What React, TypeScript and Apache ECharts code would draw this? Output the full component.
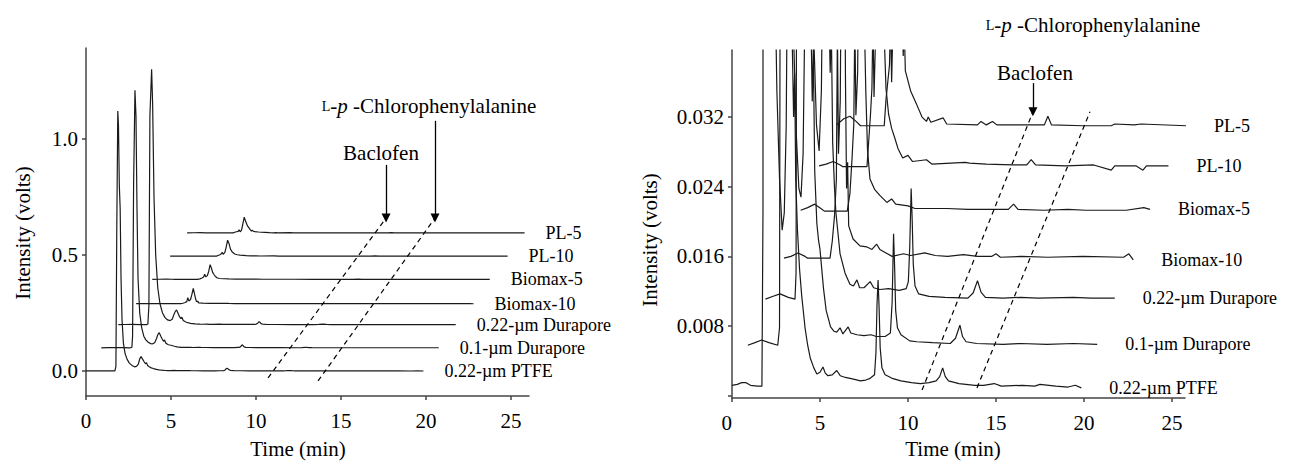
import React, { useEffect, useRef } from "react";
import * as echarts from "echarts";

// ---- data ----
const traceNames = [
  "0.22-\u00b5m PTFE",
  "0.1-\u00b5m Durapore",
  "0.22-\u00b5m Durapore",
  "Biomax-10",
  "Biomax-5",
  "PL-10",
  "PL-5",
];
// start time of each trace (min)
const xOffsets = [0, 0.9, 1.9, 2.95, 3.9, 4.95, 5.95];
// baseline offsets (volts)
const leftBaselines = [0, 0.1, 0.2, 0.29, 0.395, 0.495, 0.595];
const rightBaselines = [0.001, 0.0058, 0.0111, 0.0158, 0.0212, 0.0263, 0.031];

// local [time (min), intensity above baseline (volts)]
const ptfe = [
  [0, 0.0002], [0.3, 0.0003], [0.55, 0.0005], [0.8, 0.0005], [1.05, 0.0002], [1.45, 0.0001], [1.7, 0.0001],
  [1.76, 0.02], [1.81, 0.6], [1.87, 1.12], [1.91, 1.06], [1.96, 0.8], [2.01, 0.7], [2.06, 0.4], [2.12, 0.22],
  [2.2, 0.12], [2.3, 0.075], [2.42, 0.05], [2.55, 0.034], [2.7, 0.024], [2.85, 0.018], [2.97, 0.02],
  [3.08, 0.03], [3.16, 0.052], [3.24, 0.062], [3.32, 0.052], [3.42, 0.04], [3.5, 0.031], [3.56, 0.036],
  [3.62, 0.024], [3.72, 0.018], [3.84, 0.0135], [3.96, 0.0105], [4.15, 0.0068],
  [4.3, 0.0048], [4.45, 0.0033], [4.65, 0.0022], [4.82, 0.0015], [5.0, 0.0017], [5.17, 0.0023], [5.3, 0.0016],
  [5.45, 0.0013], [5.7, 0.0014], [5.95, 0.0019], [6.15, 0.0013], [6.45, 0.0011], [6.9, 0.0009], [7.3, 0.0007],
  [7.6, 0.0008], [7.85, 0.001], [8.1, 0.0014], [8.18, 0.004], [8.24, 0.0095], [8.3, 0.0123], [8.36, 0.009],
  [8.42, 0.0045], [8.52, 0.0022], [8.7, 0.0014], [9.1, 0.001], [9.6, 0.0007], [10.2, 0.0005], [10.7, 0.0004],
  [11.2, 0.0005], [11.6, 0.0007], [11.8, 0.0012], [11.97, 0.0022], [12.12, 0.0012], [12.3, 0.0007], [12.9, 0.0004],
  [13.8, 0.0002], [14.3, 0.0002], [14.9, 0.0004], [15.3, 0.0001], [16.5, 0.0002], [17.2, 0.0001], [17.5, 0.0003],
  [18.4, 0.0001], [19.1, 0], [19.5, 0.0002], [19.85, -0.0001],
];
const durapore01 = [
  [0, 0], [0.4, 0.0003], [0.79, 0.0006], [1.2, 0.0003], [1.7, 0], [1.8, 0.002], [1.84, 0.05], [1.9, 0.7],
  [1.98, 1.11], [2.04, 1.0], [2.1, 0.6], [2.16, 0.3], [2.26, 0.15], [2.38, 0.085], [2.5, 0.05], [2.62, 0.034],
  [2.76, 0.024], [2.9, 0.018], [3.02, 0.017], [3.14, 0.022], [3.25, 0.04], [3.33, 0.058], [3.41, 0.065],
  [3.5, 0.05], [3.58, 0.038], [3.66, 0.028], [3.72, 0.034], [3.8, 0.02], [3.92, 0.014], [4.02, 0.012],
  [4.1, 0.011], [4.3, 0.0065], [4.45, 0.004], [4.7, 0.0021], [4.9, 0.0016], [5.05, 0.0015], [5.24, 0.002],
  [5.4, 0.0013], [5.7, 0.0021], [5.85, 0.0014], [6.2, 0.0012], [6.6, 0.0011], [7.0, 0.0012], [7.3, 0.001],
  [7.8, 0.001], [8.1, 0.0014], [8.2, 0.005], [8.28, 0.0128], [8.34, 0.009], [8.4, 0.004], [8.5, 0.002],
  [8.7, 0.0012], [9.2, 0.0005], [9.6, 0.0004], [10.5, 0.0003], [11.5, 0.0002], [11.8, 0.0008], [12.05, 0.0023],
  [12.2, 0.001], [12.4, 0.0004], [13.0, 0.0002], [14.5, 0.0001], [15.5, 0.0002], [17, 0.0001], [18.5, 0.0002],
  [19.85, 0.0001],
];
const durapore022 = [
  [0, 0], [0.4, 0.0003], [0.83, 0.0006], [1.3, 0.0002], [1.68, 0], [1.74, 0.003], [1.8, 0.08], [1.86, 0.9],
  [1.96, 1.1], [2.02, 0.95], [2.1, 0.55], [2.2, 0.3], [2.32, 0.16], [2.45, 0.09], [2.6, 0.05], [2.75, 0.03],
  [2.9, 0.02], [3.05, 0.017], [3.18, 0.024], [3.28, 0.045], [3.36, 0.058], [3.43, 0.063], [3.52, 0.048],
  [3.6, 0.034], [3.68, 0.026], [3.74, 0.032], [3.82, 0.018], [3.92, 0.013], [4.0, 0.01],
  [4.24, 0.0052], [4.52, 0.003], [4.8, 0.0017], [5.0, 0.0015], [5.2, 0.0022], [5.35, 0.0013], [5.6, 0.0013],
  [5.95, 0.002], [6.15, 0.0013], [6.5, 0.0011], [7.0, 0.0012], [7.6, 0.001], [8.0, 0.0012], [8.12, 0.002],
  [8.2, 0.006], [8.28, 0.0127], [8.34, 0.009], [8.4, 0.004], [8.5, 0.0015], [8.7, 0.0006], [9.3, 0.0003],
  [10.2, 0.0002], [11.5, 0.0001], [11.8, 0.0007], [12.05, 0.0021], [12.25, 0.0008], [12.5, 0.0002],
  [13.5, 0.0001], [14.5, 0.0002], [15.5, 0.0001], [17.5, 0.0002], [18.5, 0.0001], [19.85, 0.0001],
];
const biomax10 = [
  [0, 0], [0.4, 0.0002], [0.8, 0.0006], [1.2, 0.0002], [1.35, 0], [2.62, 0], [2.75, 0.002], [2.88, 0.005],
  [2.98, 0.009], [3.04, 0.026], [3.1, 0.012], [3.2, 0.018], [3.28, 0.04], [3.36, 0.066], [3.44, 0.04],
  [3.5, 0.02], [3.56, 0.008], [3.62, 0.011], [3.68, 0.0037], [3.93, 0.0022], [4.32, 0.0014], [4.7, 0.0013],
  [5.0, 0.001], [5.27, 0.0016], [5.45, 0.001], [5.8, 0.0006], [6.15, 0.0002], [6.8, 0.0005], [7.2, 0.0003],
  [8.0, 0.0006], [8.6, 0.0003], [9.3, 0.0002], [10.2, 0.0004], [11.0, 0.0002], [11.8, 0.0002], [12.05, 0.0005],
  [12.3, 0.0001], [13.5, 0.0002], [15, 0.0001], [17, 0.0002], [19.3, 0.0001], [19.6, 0.0005], [19.85, -0.0002],
];
const biomax5 = [
  [0, 0.0001], [0.4, 0.0004], [0.8, 0.0008], [1.15, 0.0003], [1.35, 0], [2.65, 0], [2.8, 0.002], [2.92, 0.006],
  [3.02, 0.01], [3.08, 0.022], [3.14, 0.011], [3.24, 0.016], [3.32, 0.035], [3.4, 0.063], [3.47, 0.05],
  [3.55, 0.03], [3.62, 0.022], [3.7, 0.014], [3.8, 0.007], [3.94, 0.0037], [4.2, 0.0025], [4.5, 0.0018],
  [4.9, 0.001], [5.17, 0.0014], [5.4, 0.0008], [6.1, 0.0006], [6.5, 0.0003], [8.3, 0.0003], [9.5, 0.0002],
  [11.8, 0.0002], [12.1, 0.0008], [12.35, 0.0002], [13.8, 0.0001], [15.2, 0.0002], [16.2, 0.0001],
  [18.5, 0.0001], [19.5, 0.0004], [19.85, 0.0002],
];
const pl10 = [
  [0, 0.0001], [0.4, 0.0003], [0.8, 0.0006], [1.2, 0.0002], [1.35, 0], [2.72, 0], [2.82, 0.003], [2.92, 0.006],
  [3.0, 0.009], [3.06, 0.017], [3.12, 0.008], [3.22, 0.016], [3.3, 0.04], [3.38, 0.069], [3.46, 0.055],
  [3.55, 0.03], [3.65, 0.018], [3.8, 0.009], [3.95, 0.006], [4.12, 0.0044], [4.3, 0.0033], [4.48, 0.0021],
  [4.75, 0.001], [5.05, 0.0013], [5.3, 0.0006], [6.1, 0.0008], [6.4, 0.0003], [8.3, 0.0005], [8.55, 0.0004],
  [9.5, 0.0003], [11.0, 0.0002], [11.8, 0.0002], [12.05, 0.0008], [12.3, 0.0002], [14, 0.0001], [15.6, 0.0002],
  [16.6, -0.0004], [16.8, 0.0001], [18, 0.0001], [18.4, -0.0004], [18.6, 0.0001], [19.85, 0.0001],
];
const pl5 = [
  [0, 0.0001], [0.4, 0.0008], [0.75, 0.0011], [1.1, 0.0005], [1.35, 0], [2.7, 0], [2.8, 0.003], [2.9, 0.005],
  [3.0, 0.007], [3.06, 0.013], [3.12, 0.005], [3.2, 0.012], [3.28, 0.04], [3.36, 0.068], [3.44, 0.05],
  [3.55, 0.03], [3.7, 0.015], [3.78, 0.008], [3.83, 0.012], [3.9, 0.0063], [4.2, 0.004], [4.55, 0.0024],
  [4.85, 0.001], [5.1, 0.0005], [5.2, 0.001], [5.35, 0.0004], [6.05, 0.0009], [6.25, 0.0002], [8.0, 0.0001],
  [8.2, 0.0005], [8.5, 0.0001], [8.85, 0.0005], [9.1, 0.0001], [11.8, 0.0001], [12.0, 0.0011], [12.2, 0.0001],
  [14, 0], [15.6, 0], [15.8, 0.0002], [16.9, 0.0001], [17.3, 0.0002], [19.85, 0],
];
const traces = [ptfe, durapore01, durapore022, biomax10, biomax5, pl10, pl5];

const xTicks = [0, 5, 10, 15, 20, 25];
const leftYTicks = [0, 0.5, 1.0];
const rightYTicks = [0, 0.008, 0.016, 0.024, 0.032];
const rightYLabels = [0.008, 0.016, 0.024, 0.032];

// dashed guide lines and arrows [time, volts]
const baclofenLeft = [[10.71, -0.03], [17.65, 0.659]];
const chloroLeft = [[13.65, -0.043], [20.53, 0.659]];
const baclofenArrowLeft = [[17.65, 0.888], [17.65, 0.659]];
const chloroArrowLeft = [[20.53, 1.078], [20.53, 0.659]];
const baclofenRight = [[10.8, 0.00065], [17.1, 0.0326]];
const chloroRight = [[13.92, 0.0009], [20.34, 0.0326]];
const baclofenArrowRight = [[17.1, 0.0359], [17.1, 0.0326]];
const chloroArrowRight = [[20.34, 0.0432], [20.34, 0.0326]];

// ---- chart ----
const serif = "'Liberation Serif', 'Times New Roman', serif";
const axisColor = "#444";

function traceSeries(panel: number) {
  const base = panel === 0 ? leftBaselines : rightBaselines;
  return traces.map((tr, i) => ({
    type: "line",
    name: traceNames[i],
    xAxisIndex: panel,
    yAxisIndex: panel,
    data: tr.map(([t, v]) => [t + xOffsets[i], v + base[i]]),
    symbol: "none",
    showSymbol: false,
    silent: true,
    lineStyle: { color: "#1a1a1a", width: 1.2 },
    endLabel: {
      show: true,
      formatter: traceNames[i],
      distance: panel === 0 ? 21 : 28,
      color: "#000",
      fontFamily: serif,
      fontSize: 18,
    },
    z: 2,
  }));
}

function guideSeries(panel: number, line: number[][], arrow: number[][]) {
  return {
    type: "line",
    xAxisIndex: panel,
    yAxisIndex: panel,
    data: line,
    symbol: "none",
    showSymbol: false,
    silent: true,
    clip: false,
    lineStyle: { color: "#000", width: 1.2, type: [5, 4] },
    markLine: {
      silent: true,
      symbol: ["none", "triangle"],
      symbolSize: 9,
      label: { show: false },
      lineStyle: { color: "#000", width: 1.3, type: "solid" },
      data: [[{ coord: arrow[0] }, { coord: arrow[1] }]],
    },
    z: 3,
  };
}

function xAxis(panel: number, max: number) {
  return {
    type: "value",
    gridIndex: panel,
    min: 0,
    max,
    axisLine: { show: true, onZero: false, lineStyle: { color: axisColor, width: 1.5 } },
    axisTick: { show: true, length: 4, customValues: xTicks, lineStyle: { color: axisColor, width: 1.5 } },
    axisLabel: {
      customValues: xTicks,
      fontFamily: serif,
      fontSize: 21,
      color: "#000",
      margin: 14,
      alignMinLabel: panel === 1 ? "right" : "center",
    },
    splitLine: { show: false },
  };
}

function yAxis(panel: number, min: number, max: number, ticks: number[], labels: number[], digits: number) {
  return {
    type: "value",
    gridIndex: panel,
    min,
    max,
    axisLine: { show: true, onZero: false, lineStyle: { color: axisColor, width: 1.5 } },
    axisTick: { show: true, length: 4, customValues: ticks, lineStyle: { color: axisColor, width: 1.5 } },
    axisLabel: {
      customValues: labels,
      formatter: (v: number) => v.toFixed(digits),
      fontFamily: serif,
      fontSize: 21,
      color: "#000",
      margin: 8,
    },
    splitLine: { show: false },
  };
}

function textEl(x: number, y: number, text: string, rotation = 0) {
  return {
    type: "text",
    x,
    y,
    rotation,
    silent: true,
    style: {
      text,
      fill: "#000",
      fontFamily: serif,
      fontSize: 21,
      textAlign: "center",
      textVerticalAlign: "middle",
      align: "center",
      verticalAlign: "middle",
    },
  };
}

function chloroEl(x: number, y: number) {
  return {
    type: "text",
    x,
    y,
    silent: true,
    style: {
      text: "{sc|L}-{it|p} -Chlorophenylalanine",
      fill: "#000",
      fontFamily: serif,
      fontSize: 21,
      textAlign: "center",
      textVerticalAlign: "middle",
      align: "center",
      verticalAlign: "middle",
      rich: {
        sc: { fontFamily: serif, fontSize: 14, fill: "#000" },
        it: { fontFamily: serif, fontSize: 21, fontStyle: "italic", fill: "#000" },
      },
    },
  };
}

const option = {
  animation: false,
  backgroundColor: "#fff",
  grid: [
    { left: 86, top: 48, width: 443, height: 348 },
    { left: 732, top: 50, width: 453, height: 348 },
  ],
  xAxis: [xAxis(0, 26.06), xAxis(1, 25.74)],
  yAxis: [
    yAxis(0, -0.1078, 1.392, leftYTicks, leftYTicks, 1),
    yAxis(1, -0.00026, 0.0397, rightYTicks, rightYLabels, 3),
  ],
  series: [
    ...traceSeries(0),
    ...traceSeries(1),
    guideSeries(0, baclofenLeft, baclofenArrowLeft),
    guideSeries(0, chloroLeft, chloroArrowLeft),
    guideSeries(1, baclofenRight, baclofenArrowRight),
    guideSeries(1, chloroRight, chloroArrowRight),
  ],
  graphic: [
    textEl(381, 153, "Baclofen"),
    chloroEl(429, 106),
    textEl(1035, 73, "Baclofen"),
    chloroEl(1093, 25),
    textEl(298, 449, "Time (min)"),
    textEl(953, 449, "Time (min)"),
    textEl(23, 233, "Intensity (volts)", Math.PI / 2),
    textEl(650, 240, "Intensity (volts)", Math.PI / 2),
  ],
};

export default function App() {
  const ref = useRef<HTMLDivElement>(null);
  useEffect(() => {
    document.body.style.margin = "0";
    const chart = echarts.init(ref.current as HTMLDivElement, null, { renderer: "svg" });
    chart.setOption(option as any);
    return () => chart.dispose();
  }, []);
  return <div ref={ref} style={{ width: 1296, height: 461 }} />;
}
